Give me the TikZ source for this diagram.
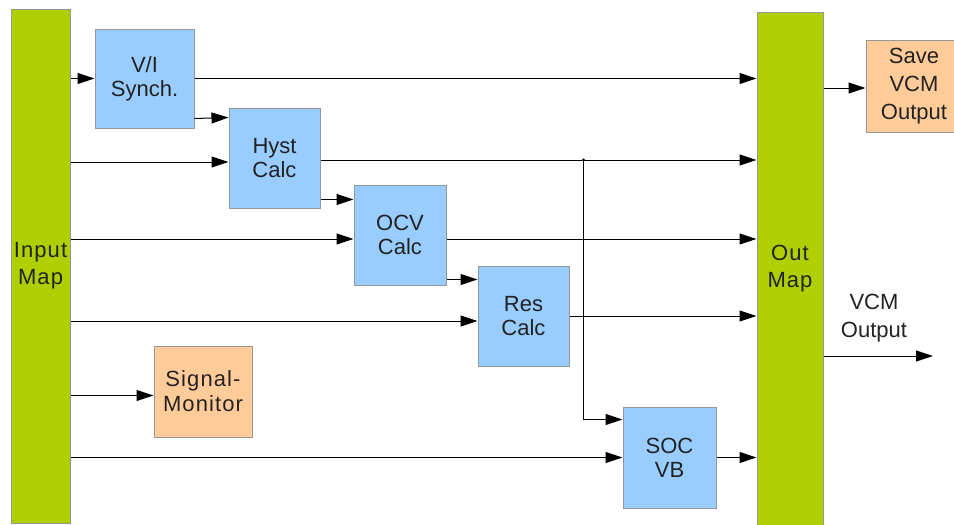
\documentclass[tikz,border=0pt]{standalone}
\usepackage{fontspec}
\setmainfont{Liberation Sans}
\usetikzlibrary{arrows.meta}
\definecolor{mapgreen}{RGB}{176,207,0}
\definecolor{blockblue}{RGB}{153,204,255}
\definecolor{blockorange}{RGB}{255,204,153}
\definecolor{boxline}{RGB}{150,150,150}
\definecolor{txt}{RGB}{34,34,34}

\begin{document}
\begin{tikzpicture}[x=1pt, y=-1pt, line width=1pt,
  >={Triangle[length=17pt,width=11pt]},
  box/.style={draw=boxline, inner sep=0pt, align=center, text=txt,
    font=\fontsize{22}{24}\selectfont},
  mapbox/.style={box, fill=mapgreen,
    font=\fontsize{22}{27}\selectfont\addfontfeatures{LetterSpace=5}},
  fnbox/.style={box, fill=blockblue},
  extbox/.style={box, fill=blockorange}]
  \useasboundingbox (0,0) rectangle (954,525);
  % Maps left and right
  \node[mapbox, minimum width=59pt, minimum height=514pt] (inmap) at (40.5,266) {Input\\Map};
  \node[mapbox, minimum width=66pt, minimum height=513pt] (outmap) at (790,268.5) {Out\\Map};
  % blocks
  \node[fnbox, minimum width=99pt, minimum height=99pt] (vi) at (144.5,78.5) {V/I\\Synch.};
  \node[fnbox, minimum width=91pt, minimum height=100pt] (hyst) at (274.5,158) {Hyst\\Calc};
  \node[fnbox, minimum width=92pt, minimum height=100pt] (ocv) at (400,235) {OCV\\Calc};
  \node[fnbox, minimum width=91pt, minimum height=100pt] (res) at (523.5,316) {Res\\Calc};
  \node[fnbox, minimum width=93pt, minimum height=101pt] (socvb) at (669.5,457.5) {SOC\\VB};
  \node[extbox, minimum width=98pt, minimum height=91pt,
    font=\fontsize{22}{25}\selectfont\addfontfeatures{LetterSpace=5}] (sig) at (203,391.5) {Signal-\\Monitor};
  \node[extbox, minimum width=96pt, minimum height=92pt,
    font=\fontsize{22}{28}\selectfont] (save) at (914,86) {Save\\VCM\\Output};
  \node[align=center, text=txt, font=\fontsize{22}{28}\selectfont] (vcmlabel) at (874,318) {VCM\\Output};
  % V/I
  \draw[->] (inmap.east |- vi.west) -- (vi.west);
  \draw[->] (vi.east) -- (vi.east -| outmap.west);
  \draw[->] ([yshift=10pt]vi.south east) -- ([yshift=-10pt]hyst.north west);
  % Hyst
  \coordinate (h1) at ([yshift=-4pt]hyst.west);
  \coordinate (h2) at ([yshift=-2pt]hyst.east);
  \coordinate (h3) at ([yshift=9pt]hyst.south east);
  \draw[->] (inmap.east |- h1) -- (h1);
  \draw[->] (h2) -- (h2 -| outmap.west);
  \draw[->] (h3) -- (h3 -| ocv.west);
  % OCV
  \coordinate (o1) at ([yshift=-4pt]ocv.west);
  \coordinate (o2) at ([yshift=6pt]ocv.south east);
  \draw[->] (inmap.east |- o1) -- (o1);
  \draw[->] (o1 -| ocv.east) -- (o1 -| outmap.west);
  \draw[->] (o2) -- (o2 -| res.west);
  % Res
  \coordinate (r1) at ([yshift=-5pt]res.west);
  \draw[->] (inmap.east |- r1) -- (r1);
  \draw[->] (res.east) -- (res.east -| outmap.west);
  % branch to SOC VB
  \coordinate (j) at ([xshift=-39pt]h2 -| socvb.west);
  \fill (j) circle (1.6pt);
  \draw[->] (j) |- ([yshift=-13pt]socvb.north west);
  \draw[->] (inmap.east |- socvb.west) -- (socvb.west);
  \draw[->] (socvb.east) -- (socvb.east -| outmap.west);
  % Signal-Monitor
  \coordinate (s1) at ([yshift=-4pt]sig.west);
  \draw[->] (inmap.east |- s1) -- (s1);
  % outputs
  \coordinate (s2) at ([yshift=-2pt]save.west);
  \draw[->] (outmap.east |- s2) -- (s2);
  \coordinate (vcm) at (933,356);
  \draw[->] (outmap.east |- vcm) -- (vcm);
\end{tikzpicture}
\end{document}
